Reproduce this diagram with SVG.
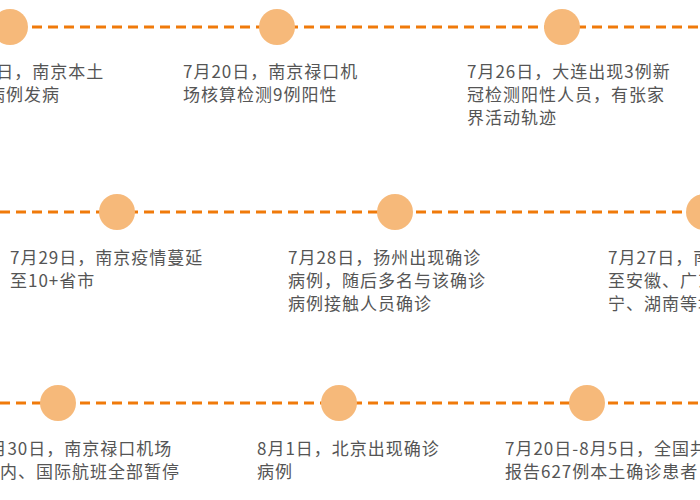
<svg xmlns="http://www.w3.org/2000/svg" width="700" height="500" viewBox="0 0 700 500">
<style>
.ln{stroke:#F07A0A;stroke-width:3;stroke-dasharray:10 6;fill:none}
.c{fill:#F6B97A}
text{font-family:"Noto Sans CJK SC","Noto Sans",sans-serif;font-size:17px;letter-spacing:1px;fill:#555}
</style>
<rect width="700" height="500" fill="#fff"/>
<g id="connectors">
<line class="ln" x1="0" y1="27" x2="700" y2="27"/>
<line class="ln" x1="0" y1="212" x2="700" y2="212"/>
<line class="ln" x1="0" y1="403" x2="700" y2="403"/>
</g>
<g id="n1"><circle class="c" cx="10" cy="27" r="18"/><text x="-53" y="78">7月20日，南京本土</text><text x="-12" y="101">病例发病</text></g>
<g id="n2"><circle class="c" cx="277" cy="27" r="18"/><text x="183" y="78">7月20日，南京禄口机</text><text x="183" y="101">场核算检测9例阳性</text></g>
<g id="n3"><circle class="c" cx="562" cy="27" r="18"/><text x="467" y="78">7月26日，大连出现3例新</text><text x="467" y="101">冠检测阳性人员，有张家</text><text x="467" y="124">界活动轨迹</text></g>
<g id="n4"><circle class="c" cx="117" cy="212" r="18"/><text x="10" y="264">7月29日，南京疫情蔓延</text><text x="10" y="287">至10+省市</text></g>
<g id="n5"><circle class="c" cx="395" cy="212" r="18"/><text x="288" y="264">7月28日，扬州出现确诊</text><text x="288" y="287">病例，随后多名与该确诊</text><text x="288" y="310">病例接触人员确诊</text></g>
<g id="n6"><circle class="c" cx="704" cy="212" r="18"/><text x="608" y="264">7月27日，南京疫情蔓延</text><text x="608" y="287">至安徽、广东、四川、辽</text><text x="608" y="310">宁、湖南等地</text></g>
<g id="n7"><circle class="c" cx="58" cy="403" r="18"/><text x="-21" y="455">7月30日，南京禄口机场</text><text x="-18" y="478">国内、国际航班全部暂停</text></g>
<g id="n8"><circle class="c" cx="339" cy="403" r="18"/><text x="257" y="455">8月1日，北京出现确诊</text><text x="257" y="478">病例</text></g>
<g id="n9"><circle class="c" cx="587" cy="403" r="18"/><text x="505" y="455">7月20日-8月5日，全国共</text><text x="505" y="478">报告627例本土确诊患者</text></g>
</svg>
